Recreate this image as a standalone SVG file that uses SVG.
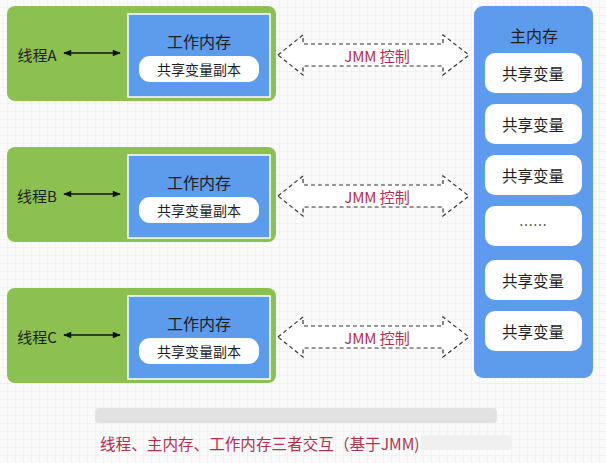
<svg xmlns="http://www.w3.org/2000/svg" width="606" height="463" viewBox="0 0 606 463">
<defs>
<pattern id="grid" width="8" height="8" patternUnits="userSpaceOnUse">
<rect width="8" height="8" fill="#fafafa"/>
<path d="M8 0V8M0 8H8" stroke="#ebebeb" stroke-width="1" fill="none"/>
</pattern>
<marker id="ah" viewBox="0 0 10 10" refX="9" refY="5" markerWidth="9" markerHeight="8" orient="auto-start-reverse" markerUnits="userSpaceOnUse">
<path d="M0 1L10 5L0 9Z" fill="#111"/>
</marker>
<style>
.t{font-family:"Noto Sans CJK SC","Liberation Sans",sans-serif;fill:#1e1e1e;text-anchor:middle;dominant-baseline:central}
.green{fill:#8cc152}
.blue{fill:#5d9cec}
.wm{fill:#5d9cec;stroke:#ffffff;stroke-width:1.5}
.pill{fill:#ffffff}
.dash{fill:#ffffff;stroke:#333;stroke-width:1.2;stroke-dasharray:4 3}
.jmm{font-family:"Noto Sans CJK SC","Liberation Sans",sans-serif;fill:#b2304f;font-size:15px;text-anchor:middle;dominant-baseline:central}
</style>
</defs>
<rect width="606" height="463" fill="url(#grid)"/>

<g id="threadA">
<rect class="green" x="7" y="6" width="269" height="95" rx="8"/>
<rect class="wm" x="128" y="14" width="142" height="83"/>
<text class="t" x="199" y="41" font-size="16">工作内存</text>
<rect class="pill" x="139" y="56" width="120" height="26" rx="11"/>
<text class="t" x="199" y="69" font-size="14">共享变量副本</text>
<text class="t" x="37" y="54" font-size="15">线程A</text>
</g>
<g id="threadB" transform="translate(0,141)">
<rect class="green" x="7" y="6" width="269" height="95" rx="8"/>
<rect class="wm" x="128" y="14" width="142" height="83"/>
<text class="t" x="199" y="41" font-size="16">工作内存</text>
<rect class="pill" x="139" y="56" width="120" height="26" rx="11"/>
<text class="t" x="199" y="69" font-size="14">共享变量副本</text>
<text class="t" x="37" y="54" font-size="15">线程B</text>
</g>
<g id="threadC" transform="translate(0,282)">
<rect class="green" x="7" y="6" width="269" height="95" rx="8"/>
<rect class="wm" x="128" y="14" width="142" height="83"/>
<text class="t" x="199" y="41" font-size="16">工作内存</text>
<rect class="pill" x="139" y="56" width="120" height="26" rx="11"/>
<text class="t" x="199" y="69" font-size="14">共享变量副本</text>
<text class="t" x="37" y="54" font-size="15">线程C</text>
</g>

<g id="mainMemory">
<rect class="blue" x="474" y="6" width="119" height="372" rx="9"/>
<text class="t" x="534" y="35" font-size="16">主内存</text>
<rect class="pill" x="485" y="53" width="97" height="40" rx="10"/>
<text class="t" x="533" y="73" font-size="15.5">共享变量</text>
<rect class="pill" x="485" y="104" width="97" height="40" rx="10"/>
<text class="t" x="533" y="124" font-size="15.5">共享变量</text>
<rect class="pill" x="485" y="155" width="97" height="40" rx="10"/>
<text class="t" x="533" y="175" font-size="15.5">共享变量</text>
<rect class="pill" x="485" y="206" width="97" height="40" rx="10"/>
<text class="t" x="533" y="224" font-size="14">……</text>
<rect class="pill" x="485" y="260" width="97" height="40" rx="10"/>
<text class="t" x="533" y="280" font-size="15.5">共享变量</text>
<rect class="pill" x="485" y="311" width="97" height="40" rx="10"/>
<text class="t" x="533" y="331" font-size="15.5">共享变量</text>
</g>

<g id="connectors">
<line x1="64" y1="53" x2="120" y2="53" stroke="#111" stroke-width="1.5" marker-start="url(#ah)" marker-end="url(#ah)"/>
<line x1="64" y1="194" x2="120" y2="194" stroke="#111" stroke-width="1.5" marker-start="url(#ah)" marker-end="url(#ah)"/>
<line x1="64" y1="335" x2="120" y2="335" stroke="#111" stroke-width="1.5" marker-start="url(#ah)" marker-end="url(#ah)"/>
<g id="jmmA">
<path class="dash" d="M278 55L303 35V44H443V35L469 55L443 75V66H303V75Z"/>
<text class="jmm" x="377" y="55">JMM 控制</text>
</g>
<g id="jmmB" transform="translate(0,141)">
<path class="dash" d="M278 55L303 35V44H443V35L469 55L443 75V66H303V75Z"/>
<text class="jmm" x="377" y="55">JMM 控制</text>
</g>
<g id="jmmC" transform="translate(0,282)">
<path class="dash" d="M278 55L303 35V44H443V35L469 55L443 75V66H303V75Z"/>
<text class="jmm" x="377" y="55">JMM 控制</text>
</g>
</g>

<rect x="95" y="408" width="402" height="15" rx="4" fill="#e2e2e2"/>
<rect x="420" y="435" width="92" height="15" rx="4" fill="#f0f0f0"/>
<text x="100" y="443" font-family="Noto Sans CJK SC,Liberation Sans,sans-serif" font-size="15.6" fill="#b2304f" dominant-baseline="central">线程、主内存、工作内存三者交互（基于JMM)</text>
</svg>
